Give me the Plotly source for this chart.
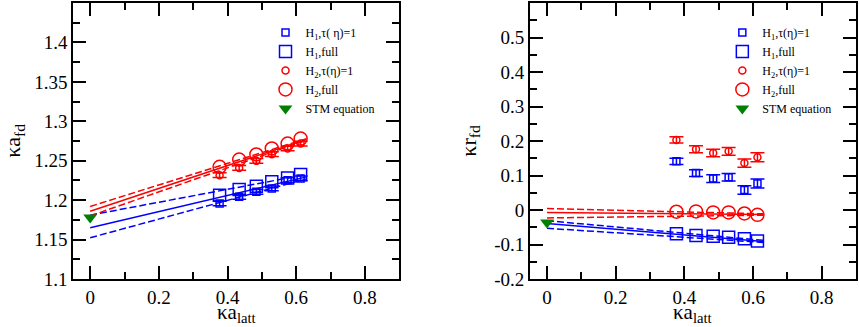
import plotly.graph_objects as go

# lattice kappa*a values (same for all series)
x_latt = [0.377, 0.434, 0.484, 0.529, 0.575, 0.613]

# left panel: kappa*a_fd
a_h1_tau = [1.1958, 1.2042, 1.2105, 1.2148, 1.2253, 1.2275]
a_h1_full = [1.2063, 1.2136, 1.2177, 1.2232, 1.2282, 1.2325]
a_h2_tau = [1.2317, 1.2409, 1.2498, 1.2583, 1.2655, 1.2718]
a_h2_full = [1.2422, 1.2515, 1.2579, 1.2655, 1.2718, 1.2781]
a_err = [0.003, 0.003, 0.003, 0.003, 0.003, 0.003]

# right panel: kappa*r_fd
r_h1_tau = [0.141, 0.107, 0.091, 0.095, 0.058, 0.077]
r_h2_tau = [0.203, 0.176, 0.165, 0.170, 0.136, 0.153]
r_err = [0.009, 0.010, 0.011, 0.011, 0.012, 0.013]
r_h1_full = [-0.069, -0.074, -0.076, -0.079, -0.083, -0.090]
r_h2_full = [-0.005, -0.004, -0.007, -0.007, -0.010, -0.014]

# extrapolation lines (x=0 -> end)
fit_x = [0.0, 0.63]
a_fit_blue = {"up": [1.181, 1.2325], "mid": [1.165, 1.2295], "lo": [1.1523, 1.227]}
a_fit_red = {"up": [1.192, 1.278], "mid": [1.186, 1.277], "lo": [1.180, 1.276]}
r_fit_blue = {"up": [-0.031, -0.088], "mid": [-0.039, -0.091], "lo": [-0.053, -0.094]}
r_fit_red = {"up": [0.004, -0.011], "mid": [-0.007, -0.013], "lo": [-0.023, -0.015]}

# STM equation value at kappa*a = 0
stm_x = [0.0]
stm_a = [1.178]
stm_r = [-0.036]

names_left = ["H<sub>1</sub>,τ( η)=1", "H<sub>1</sub>,full", "H<sub>2</sub>,τ(η)=1", "H<sub>2</sub>,full", "STM equation"]
names_right = ["H<sub>1</sub>,τ(η)=1", "H<sub>1</sub>,full", "H<sub>2</sub>,τ(η)=1", "H<sub>2</sub>,full", "STM equation"]

x_major = [0, 0.2, 0.4, 0.6, 0.8]
x_major_text = ["0", "0.2", "0.4", "0.6", "0.8"]
x_minor = [0.1, 0.3, 0.5, 0.7]
left_yvals = [1.1, 1.15, 1.2, 1.25, 1.3, 1.35, 1.4]
left_ytext = ["1.1", "1.15", "1.2", "1.25", "1.3", "1.35", "1.4"]
left_yminor = [1.125, 1.175, 1.225, 1.275, 1.325, 1.375, 1.425]
right_yvals = [-0.2, -0.1, 0, 0.1, 0.2, 0.3, 0.4, 0.5]
right_ytext = ["-0.2", "-0.1", "0", "0.1", "0.2", "0.3", "0.4", "0.5"]
right_yminor = [-0.15, -0.05, 0.05, 0.15, 0.25, 0.35, 0.45, 0.55]

BLUE = "#0000ff"
RED = "#ff0000"
GREEN = "#008000"
FONT = "Liberation Serif"

fig = go.Figure()


def add_panel(xa, ya, leg, fits_blue, fits_red, h1_tau, h1_full, h2_tau, h2_full, err, stm_y, names):
    for fits, col in [(fits_blue, BLUE), (fits_red, RED)]:
        for key in ["up", "mid", "lo"]:
            fig.add_trace(go.Scatter(
                x=fit_x, y=fits[key], mode="lines", xaxis=xa, yaxis=ya,
                line=dict(color=col, width=1.5, dash="solid" if key == "mid" else "7px,3px"),
                showlegend=False, hoverinfo="skip"))
    series = [
        (h1_tau, "square-open", 7, BLUE, err),
        (h1_full, "square-open", 12, BLUE, None),
        (h2_tau, "circle-open", 7, RED, err),
        (h2_full, "circle-open", 13, RED, None),
    ]
    for i, (yv, sym, sz, col, e) in enumerate(series):
        tr = go.Scatter(
            x=x_latt, y=yv, mode="markers", xaxis=xa, yaxis=ya, name=names[i],
            legend=leg, legendgroup=leg + str(i),
            marker=dict(symbol=sym, size=sz, color=col, line=dict(width=1.5, color=col)))
        if e is not None:
            tr.error_y = dict(type="data", array=e, visible=True, color=col, thickness=1.5, width=7)
        fig.add_trace(tr)
    fig.add_trace(go.Scatter(
        x=stm_x, y=stm_y, mode="markers", xaxis=xa, yaxis=ya, name=names[4],
        legend=leg, legendgroup=leg + "4",
        marker=dict(symbol="triangle-down", size=12, color=GREEN)))


add_panel("x", "y", "legend", a_fit_blue, a_fit_red, a_h1_tau, a_h1_full, a_h2_tau, a_h2_full,
          a_err, stm_a, names_left)
add_panel("x2", "y2", "legend2", r_fit_blue, r_fit_red, r_h1_tau, r_h1_full, r_h2_tau, r_h2_full,
          r_err, stm_r, names_right)

W, H = 859, 327
ml, mr, mt, mb = 73, 1, 1, 48
pw, ph = W - ml - mr, H - mt - mb


def px_x(p):
    return (p - ml) / pw


def px_y(p):
    return (H - mb - p) / ph


axis_common = dict(
    showline=True, linecolor="#000000", linewidth=1.5, mirror="ticks",
    ticks="inside", ticklen=13, tickwidth=2, tickcolor="#000000", layer="above traces",
    showgrid=False, zeroline=False,
    tickfont=dict(family=FONT, size=19, color="black"),
    title_font=dict(family=FONT, size=22, color="black"),
)


def minor(vals):
    return dict(tickvals=vals, ticks="inside", ticklen=7, tickwidth=2, tickcolor="#000000")


x_range = [-0.05, 0.9]
left_dom = [0, px_x(400)]
right_dom = [px_x(531), 1]

fig.update_layout(
    width=W, height=H,
    margin=dict(l=ml, r=mr, t=mt, b=mb),
    paper_bgcolor="white", plot_bgcolor="white",
    font=dict(family=FONT, color="black"),
    xaxis=dict(domain=left_dom, anchor="y", range=x_range, tickvals=x_major, ticktext=x_major_text,
               minor=minor(x_minor), **axis_common),
    yaxis=dict(domain=[0, 1], anchor="x", range=[1.1, 1.45],
               tickvals=left_yvals, ticktext=left_ytext, minor=minor(left_yminor),
               title=dict(text="κa<sub>fd</sub>", standoff=8), **axis_common),
    xaxis2=dict(domain=right_dom, anchor="y2", range=x_range, tickvals=x_major, ticktext=x_major_text,
                minor=minor(x_minor), **axis_common),
    yaxis2=dict(domain=[0, 1], anchor="x2", range=[-0.2, 0.6],
                tickvals=right_yvals, ticktext=right_ytext, minor=minor(right_yminor),
                title=dict(text="κr<sub>fd</sub>", standoff=12), **axis_common),
    legend=dict(x=px_x(266), y=px_y(16), xanchor="left", yanchor="top", bgcolor="rgba(0,0,0,0)",
                font=dict(family=FONT, size=12, color="black"), itemsizing="trace", tracegroupgap=0),
    legend2=dict(x=px_x(724), y=px_y(16), xanchor="left", yanchor="top", bgcolor="rgba(0,0,0,0)",
                 font=dict(family=FONT, size=12, color="black"), itemsizing="trace", tracegroupgap=0),
)

# x-axis titles placed below the tick labels
for dom in (left_dom, right_dom):
    fig.add_annotation(text="κa<sub>latt</sub>", xref="paper", yref="paper",
                       x=(dom[0] + dom[1]) / 2, y=px_y(313.5), xanchor="center", yanchor="middle",
                       showarrow=False, font=dict(family=FONT, size=21, color="black"))

# page body has a default 8px margin; remove it so the figure sits at the corner
fig.write_html("out.html", config={"displayModeBar": False},
               post_script="document.body.style.margin='0';")
